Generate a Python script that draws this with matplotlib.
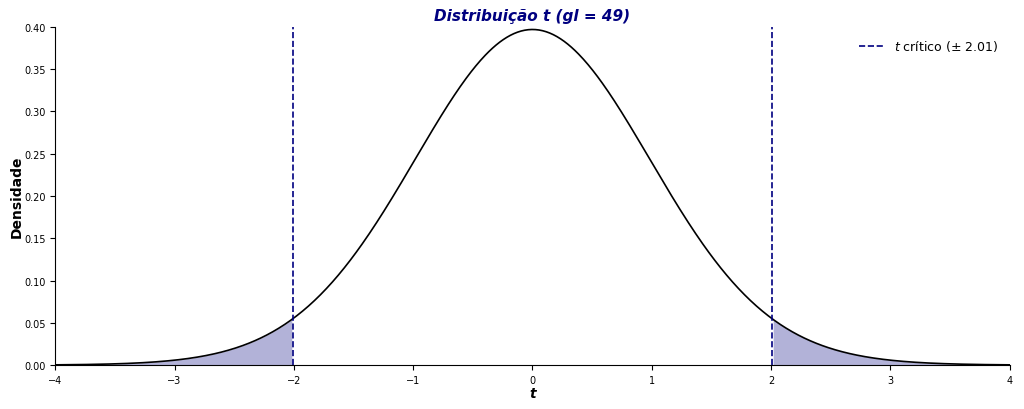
import math
import numpy as np
import matplotlib
matplotlib.use("Agg")
import matplotlib.pyplot as plt

# distribution parameters shown in the chart
gl = 49
t_crit = 2.01
x_range = [-4, 4]
y_ticks = [0.00, 0.05, 0.10, 0.15, 0.20, 0.25, 0.30, 0.35, 0.40]
x_ticks = [-4, -3, -2, -1, 0, 1, 2, 3, 4]


def t_pdf(x, df):
    c = math.gamma((df + 1) / 2) / (math.sqrt(df * math.pi) * math.gamma(df / 2))
    return c * (1 + x**2 / df) ** (-(df + 1) / 2)


x = np.linspace(x_range[0], x_range[1], 800)
y = t_pdf(x, gl)

fig, ax = plt.subplots(figsize=(10.24, 4.1), dpi=100)
ax.plot(x, y, color="black", lw=1.2)
left = x <= -t_crit
right = x >= t_crit
ax.fill_between(x[left], 0, y[left], color="navy", alpha=0.3, lw=0)
ax.fill_between(x[right], 0, y[right], color="navy", alpha=0.3, lw=0)
ax.axvline(-t_crit, color="navy", ls="--", lw=1.2, label=r"$t$ crítico ($\pm$ 2.01)")
ax.axvline(t_crit, color="navy", ls="--", lw=1.2)

ax.set_xlim(*x_range)
ax.set_ylim(0, 0.4)
ax.set_xticks(x_ticks)
ax.set_yticks(y_ticks)
ax.set_yticklabels([f"{v:.2f}" for v in y_ticks])
ax.tick_params(labelsize=7)
ax.spines["top"].set_visible(False)
ax.spines["right"].set_visible(False)
ax.set_title("Distribuição t (gl = 49)", color="navy", fontsize=11,
             fontweight="bold", fontstyle="italic", pad=5)
ax.set_xlabel("t", fontsize=10, fontweight="bold", fontstyle="italic", labelpad=1)
ax.set_ylabel("Densidade", fontsize=10, fontweight="bold", labelpad=0)
ax.legend(loc="upper right", frameon=False, fontsize=9)

fig.subplots_adjust(left=0.054, right=0.986, top=0.932, bottom=0.107)
fig.savefig("out.png", dpi=100)
